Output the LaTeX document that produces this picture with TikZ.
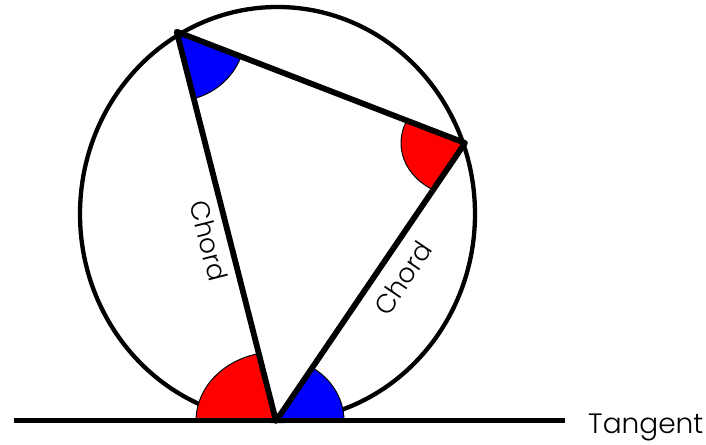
\documentclass[tikz,border=0pt]{standalone}
\usepackage{fontspec}
\setmainfont{Poppins Light}
\begin{document}
\begin{tikzpicture}[x=1pt,y=1pt,
  triline/.style={line width=5.8pt, line join=round},
  circline/.style={line width=4.3pt},
  tanline/.style={line width=5pt},
  sector/.style={draw=black, line width=1pt},
  lbl/.style={inner sep=0pt, font=\fontsize{26.5}{30}\selectfont},
  tanlbl/.style={inner sep=0pt, font=\fontsize{28}{32}\selectfont}]
\useasboundingbox (0,0) rectangle (706,444);
\coordinate (A) at (176.7,412.3);
\coordinate (B) at (465,301);
\coordinate (C) at (276,23);
\coordinate (TL) at (14,23);
\coordinate (TR) at (565,23);
\coordinate (O) at (277.5,230);
% circle
\draw[circline] (O) ellipse [x radius=197.5, y radius=207];
% sectors
\begin{scope}
  \clip (C) -- (TL) -- (A) -- cycle;
  \filldraw[sector, fill=red] (C) ellipse [x radius=80, y radius=69];
\end{scope}
\begin{scope}
  \clip (C) -- (TR) -- (B) -- cycle;
  \filldraw[sector, fill=blue] (C) ellipse [x radius=68, y radius=63];
\end{scope}
\begin{scope}
  \clip (A) -- (B) -- (C) -- cycle;
  \filldraw[sector, fill=blue] (A) circle [radius=69];
\end{scope}
\begin{scope}
  \clip (A) -- (B) -- (C) -- cycle;
  \filldraw[sector, fill=red] (B) ellipse [x radius=64, y radius=54];
\end{scope}
% lines
\draw[tanline] (TL) -- (TR);
\draw[triline] (A) -- (B) -- (C) -- cycle;
% labels
\node[lbl, rotate=-75.7] (c1) at (209,203) {Chord};
\node[lbl, rotate=55.8] (c2) at (403,166) {Chord};
\node[tanlbl, anchor=base west] (t) at (588,11) {Tangent};
\end{tikzpicture}
\end{document}
